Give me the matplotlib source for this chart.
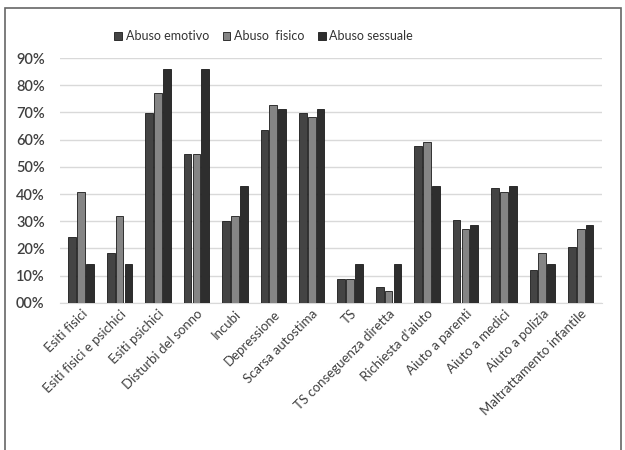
import numpy as np
import matplotlib
matplotlib.use("Agg")
import matplotlib.pyplot as plt
from matplotlib.patches import Rectangle
from matplotlib.ticker import FuncFormatter

categories = [
    "Esiti fisici", "Esiti fisici e psichici", "Esiti psichici",
    "Disturbi del sonno", "Incubi", "Depressione", "Scarsa autostima",
    "TS", "TS conseguenza diretta", "Richiesta d'aiuto", "Aiuto a parenti",
    "Aiuto a medici", "Aiuto a polizia", "Maltrattamento infantile",
]
abuso_emotivo = [24.1, 18.2, 69.9, 54.7, 30.2, 63.6, 69.9, 8.7, 5.7, 57.5, 30.3, 42.4, 12.0, 20.6]
abuso_fisico = [40.8, 31.8, 77.3, 54.7, 31.8, 72.9, 68.3, 8.7, 4.4, 59.0, 27.1, 40.8, 18.2, 27.1]
abuso_sessuale = [14.3, 14.3, 85.9, 85.9, 43.0, 71.4, 71.4, 14.3, 14.3, 43.0, 28.5, 43.0, 14.3, 28.5]
series_names = ["Abuso emotivo", "Abuso  fisico", "Abuso sessuale"]

plt.rcParams['font.family'] = ['Lato', 'DejaVu Sans']

fig = plt.figure(figsize=(6.25, 4.5), dpi=100)
ax = fig.add_axes([0.096, 0.327, 0.867, 0.544])

x = np.arange(len(categories))
w = 0.2
gap = 0.03
colors = ["#444444", "#858585", "#2e2e2e"]
for i, (vals, name) in enumerate(zip([abuso_emotivo, abuso_fisico, abuso_sessuale], series_names)):
    ax.bar(x + (i - 1) * (w + gap), np.array(vals) / 100, width=w, color=colors[i],
           edgecolor="#1a1a1a", linewidth=0.6, label=name, zorder=3)

ax.set_xlim(-0.55, len(categories) - 0.45)
ax.set_ylim(0, 0.9)
ax.set_yticks(np.arange(0, 0.91, 0.1))
ax.yaxis.set_major_formatter(FuncFormatter(lambda v, p: f"{int(round(v * 100)):02d}%"))
ax.grid(axis="y", color="#d9d9d9", linewidth=1, zorder=0)
for s in ["top", "right", "left"]:
    ax.spines[s].set_visible(False)
ax.spines["bottom"].set_color("#d9d9d9")
ax.tick_params(axis="both", length=0, colors="#404040")
ax.tick_params(axis="y", pad=11, labelsize=10.5)
for lbl in ax.get_yticklabels():
    lbl.set_fontweight("semibold")

ax.set_xticks(x)
ax.set_xticklabels(categories, rotation=45, ha="right", rotation_mode="anchor", fontsize=9.5)

fig.legend(loc="center", bbox_to_anchor=(0.422, 0.92), ncol=3, frameon=False,
           fontsize=9, handlelength=0.6, handleheight=0.6, handletextpad=0.3,
           columnspacing=1.1, labelcolor="#333333")

fig.patches.append(Rectangle((0.008, -0.1), 0.985, 1.082, transform=fig.transFigure,
                             fill=False, edgecolor="#666666", linewidth=1.2))

fig.savefig("out.png", dpi=100)
